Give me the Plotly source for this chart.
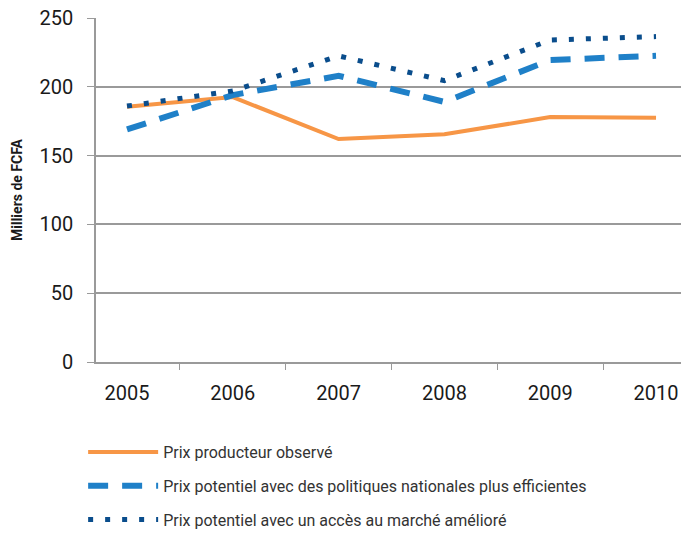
import plotly.graph_objects as go

years = ["2005", "2006", "2007", "2008", "2009", "2010"]
prix_observe = [185.5, 192.5, 162, 165.5, 178, 177.5]
prix_politiques = [169, 194, 208, 189, 219.5, 222.5]
prix_marche = [186, 197, 222.5, 204.5, 234, 236.5]

names = [
    "Prix producteur observé",
    "Prix potentiel avec des politiques nationales plus efficientes",
    "Prix potentiel avec un accès au marché amélioré",
]

FONT = "Roboto, Liberation Sans, sans-serif"

fig = go.Figure()
fig.add_trace(go.Scatter(x=years, y=prix_observe, mode="lines", name=names[0],
                         legendgroup="a",
                         line=dict(color="#F79646", width=4)))
fig.add_trace(go.Scatter(x=years, y=prix_politiques, mode="lines", name=names[1],
                         legendgroup="b",
                         line=dict(color="#1F80C8", width=6, dash="20px,14px")))
fig.add_trace(go.Scatter(x=years, y=prix_marche, mode="lines", name=names[2],
                         legendgroup="c",
                         line=dict(color="#0A4D8C", width=5, dash="5px,12px")))

fig.update_layout(
    width=681, height=537,
    margin=dict(l=96, r=0, t=18, b=175),
    plot_bgcolor="white", paper_bgcolor="white",
    font=dict(family=FONT, color="#1a1a1a"),
    showlegend=True,
    legend=dict(x=-0.022, y=0, yref="container", xanchor="left", yanchor="bottom",
                orientation="v", font=dict(size=16, family=FONT, color="#333333"),
                itemwidth=70, tracegroupgap=10, traceorder="grouped",
                bgcolor="rgba(0,0,0,0)"),
    xaxis=dict(
        type="category", range=[-0.293, 5.236], automargin=False,
        showgrid=False, showline=True, linecolor="#9a9a9a", linewidth=1.5,
        ticks="outside", tickson="boundaries", ticklen=6, tickcolor="#9a9a9a",
        tickwidth=1.3, tickfont=dict(size=20, family=FONT, color="#1a1a1a"),
        ticklabelstandoff=12,
    ),
    yaxis=dict(
        range=[0, 250], tickvals=[0, 50, 100, 150, 200, 250], automargin=False,
        showgrid=True, gridcolor="#9a9a9a", gridwidth=1.5,
        showline=True, linecolor="#9a9a9a", linewidth=1.5,
        ticks="outside", ticklen=7, tickcolor="#9a9a9a", tickwidth=1.3,
        tickfont=dict(size=20, family=FONT, color="#1a1a1a"),
        ticklabelstandoff=10, zeroline=False,
        title=dict(text="<b>Milliers de FCFA</b>", standoff=14,
                   font=dict(size=14, family=FONT, color="#1a1a1a")),
    ),
)

fig.write_html("out.html", config={"displayModeBar": False},
               post_script="document.body.style.margin='0';")
